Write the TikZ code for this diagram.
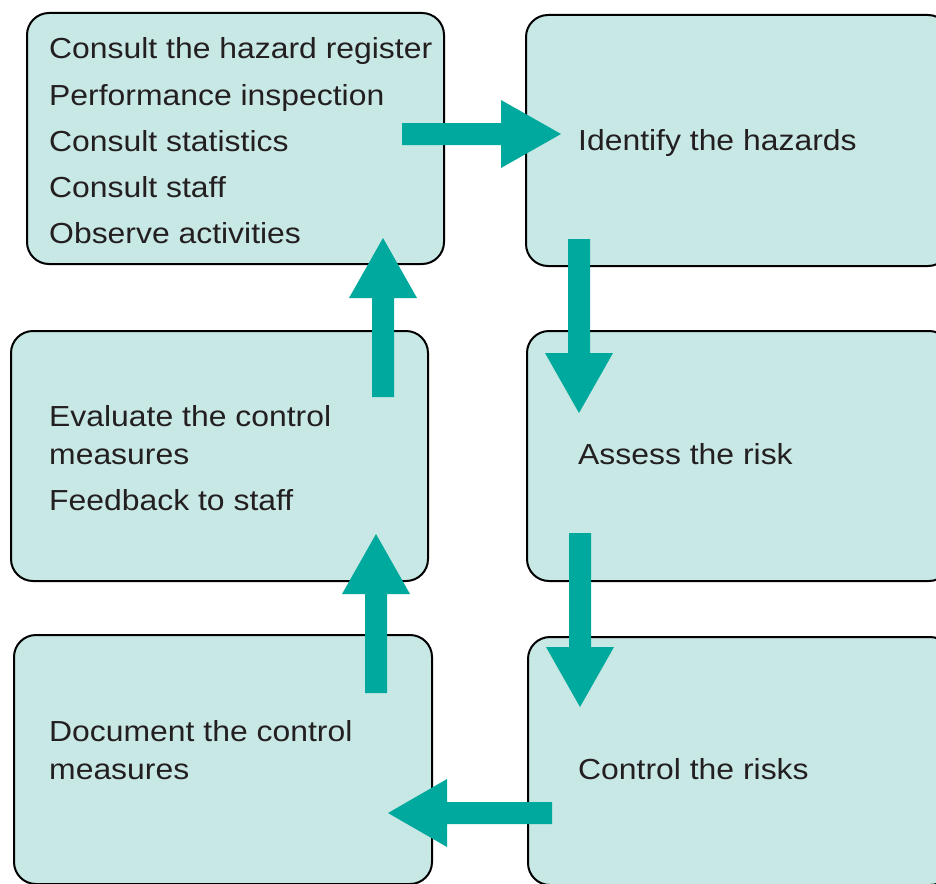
\documentclass[tikz,border=0pt]{standalone}
\usepackage{fontspec}
\setmainfont{Liberation Sans}[FakeStretch=1.1]
\definecolor{boxfill}{HTML}{C8E8E5}
\definecolor{arrowteal}{HTML}{00A99D}
\definecolor{txt}{HTML}{231F20}
\begin{document}
\begin{tikzpicture}[x=1pt,y=-1pt,
  box/.style={draw=black, line width=2pt, fill=boxfill, rounded corners=22pt, inner sep=0pt, outer sep=0pt},
  lbl/.style={anchor=base west, inner sep=0pt, text=txt, font=\fontsize{29}{35}\selectfont},
  blockarrow/.style={fill=arrowteal}]
\useasboundingbox (0,0) rectangle (936,883);
\begin{scope}
\clip (0,0) rectangle (936,883);
% boxes
\node[box, minimum width=417pt, minimum height=251pt] (A) at (235.5,138.5) {};
\node[box, minimum width=424pt, minimum height=251pt] (B) at (738,140.5) {};
\node[box, minimum width=417pt, minimum height=250pt] (C) at (219.5,456) {};
\node[box, minimum width=424pt, minimum height=250pt] (D) at (739,456) {};
\node[box, minimum width=418pt, minimum height=249pt] (E) at (223,759.5) {};
\node[box, minimum width=424pt, minimum height=248pt] (F) at (740,761) {};
% texts
\node[lbl] (a1) at (49,59) {Consult the hazard register};
\node[lbl] (a2) at (49,105) {Performance inspection};
\node[lbl] (a3) at (49,151) {Consult statistics};
\node[lbl] (a4) at (49,197) {Consult staff};
\node[lbl] (a5) at (49,243) {Observe activities};
\node[lbl] (b1) at (578,150) {Identify the hazards};
\node[lbl] (c1) at (49,426) {Evaluate the control};
\node[lbl] (c2) at (49,464) {measures};
\node[lbl] (c3) at (49,510) {Feedback to staff};
\node[lbl] (d1) at (578,464) {Assess the risk};
\node[lbl] (e1) at (49,741) {Document the control};
\node[lbl] (e2) at (49,779) {measures};
\node[lbl] (f1) at (578,779) {Control the risks};
% block arrows
\fill[blockarrow] (402,123) -- (501,123) -- (501,100) -- (561,134) -- (501,168) -- (501,145) -- (402,145) -- cycle;
\fill[blockarrow] (568,239) -- (590,239) -- (590,353) -- (613,353) -- (579,413) -- (545,353) -- (568,353) -- cycle;
\fill[blockarrow] (569,533) -- (591,533) -- (591,647) -- (614,647) -- (580,707) -- (546,647) -- (569,647) -- cycle;
\fill[blockarrow] (552,802) -- (552,824) -- (447,824) -- (447,847) -- (388,813) -- (447,779) -- (447,802) -- cycle;
\fill[blockarrow] (365,693) -- (387,693) -- (387,594) -- (410,594) -- (376,534) -- (342,594) -- (365,594) -- cycle;
\fill[blockarrow] (372,397) -- (394,397) -- (394,298) -- (417,298) -- (383,238) -- (349,298) -- (372,298) -- cycle;
\end{scope}
\end{tikzpicture}
\end{document}
